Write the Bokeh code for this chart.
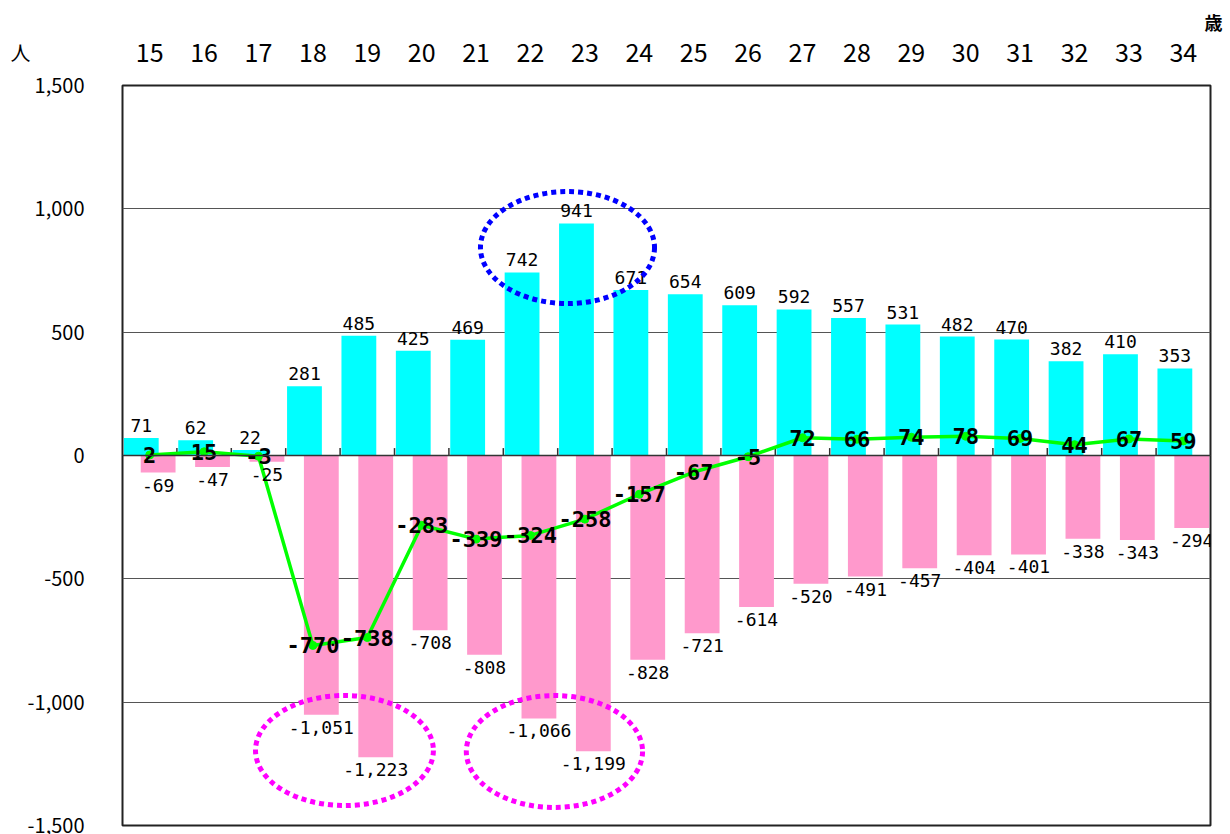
from bokeh.plotting import figure
from bokeh.models import Range1d, FixedTicker, Label, Span, Title
from bokeh.core.properties import value
from bokeh.embed import file_html
from bokeh.resources import INLINE

ages = ["15", "16", "17", "18", "19", "20", "21", "22", "23", "24",
        "25", "26", "27", "28", "29", "30", "31", "32", "33", "34"]
inflow = [71, 62, 22, 281, 485, 425, 469, 742, 941, 671,
          654, 609, 592, 557, 531, 482, 470, 382, 410, 353]
outflow = [-69, -47, -25, -1051, -1223, -708, -808, -1066, -1199, -828,
           -721, -614, -520, -491, -457, -404, -401, -338, -343, -294]
net = [2, 15, -3, -770, -738, -283, -339, -324, -258, -157,
       -67, -5, 72, 66, 74, 78, 69, 44, 67, 59]
y_ticks = [-1500, -1000, -500, 0, 500, 1000, 1500]

FONT = "Noto Sans CJK JP"
MONO = "DejaVu Sans Mono"
n = len(ages)
centers = [i + 0.5 for i in range(n)]
off = 0.155
bw = 0.64

p = figure(width=1230, height=834, x_range=Range1d(0, n), y_range=Range1d(-1500, 1500),
           output_backend="svg", toolbar_location=None,
           x_axis_location="above", y_axis_location="left",
           min_border_left=122, min_border_right=20, min_border_top=85, min_border_bottom=9)
p.outline_line_color = "#222222"
p.outline_line_width = 2
p.background_fill_color = "white"
p.border_fill_color = "white"

# unit label (age) at top right
p.add_layout(Title(text="歳", align="right", text_font=FONT, text_font_size="18px",
                   text_font_style="bold", text_color="black", offset=-12), "above")

# axes
xa = p.xaxis[0]
xa.ticker = FixedTicker(ticks=centers)
xa.major_label_overrides = {c: a for c, a in zip(centers, ages)}
xa.axis_line_color = None
xa.major_tick_line_color = None
xa.minor_tick_line_color = None
xa.major_label_text_font = FONT
xa.major_label_text_font_size = "25px"
xa.major_label_text_color = "black"
xa.major_label_standoff = 18

ya = p.yaxis[0]
ya.ticker = FixedTicker(ticks=y_ticks)
ya.major_label_overrides = {t: f"{t:,}" for t in y_ticks}
ya.axis_line_color = None
ya.major_tick_line_color = None
ya.minor_tick_line_color = None
ya.major_label_text_font = FONT
ya.major_label_text_font_size = "20px"
ya.major_label_text_color = "black"
ya.major_label_standoff = 32

p.xgrid.visible = False
p.ygrid.ticker = FixedTicker(ticks=y_ticks)
p.ygrid.grid_line_color = "#555555"
p.ygrid.grid_line_width = 1

# bars
xs_pos = [c - off for c in centers]
xs_neg = [c + off for c in centers]
p.vbar(x=xs_pos, top=inflow, bottom=0, width=bw, fill_color="#00FFFF", line_color=None)
p.vbar(x=xs_neg, top=0, bottom=outflow, width=bw, fill_color="#FF99CC", line_color=None)

# zero axis line with category ticks
p.add_layout(Span(location=0, dimension="width", line_color="#333333", line_width=1.5))
bounds = list(range(1, n))
p.segment(x0=bounds, y0=[0] * len(bounds), x1=bounds, y1=[30] * len(bounds),
          line_color="#333333", line_width=1.5)

# net line
p.line(x=centers, y=net, line_color="#00FF00", line_width=3.5)
p.scatter(x=centers, y=net, size=8, fill_color="#00FF00", line_color="#00FF00")

# value labels
p.text(x=xs_pos, y=inflow, text=[f"{v:,}" for v in inflow],
       text_font=value(MONO), text_font_size="18px", text_align="center",
       text_baseline="bottom", y_offset=-6, text_color="black")
p.text(x=xs_neg, y=outflow, text=[f"{v:,}" for v in outflow],
       text_font=value(MONO), text_font_size="18px", text_align="center",
       text_baseline="top", y_offset=6, text_color="black")
p.text(x=centers, y=net, text=[f"{v:,}" for v in net],
       text_font=value(MONO), text_font_size="22px", text_font_style="bold",
       text_align="center", text_baseline="middle", text_color="black")

# highlight ellipses
p.ellipse(x=[8.18], y=[843], width=3.2, height=454, fill_alpha=0,
          line_color="#0000FF", line_width=5, line_dash="5 4")
p.ellipse(x=[4.08, 7.94], y=[-1196, -1200], width=[3.27, 3.24], height=[446, 454], fill_alpha=0,
          line_color="#FF00FF", line_width=5, line_dash="5 4")

# unit label (persons) at top left, placed in the side panel so it is not clipped
p.add_layout(Label(x=-1.875, y=1634, text="人",
                   text_font=FONT, text_font_size="20px", text_align="center",
                   text_baseline="middle", text_color="black"), "left")

open("out.html", "w").write(file_html(p, INLINE))
